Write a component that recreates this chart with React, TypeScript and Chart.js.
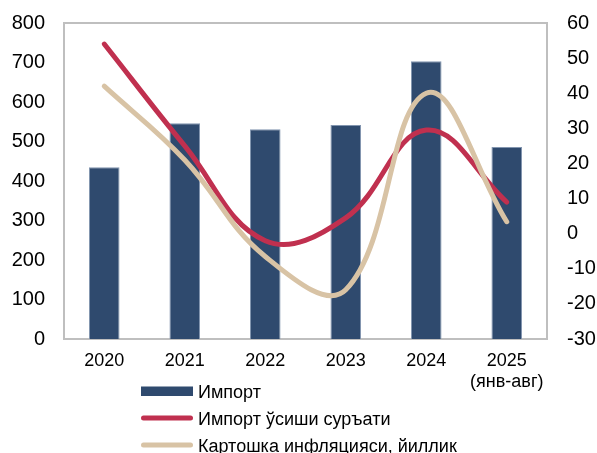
import { useEffect, useRef } from 'react';
import { Chart, registerables } from 'chart.js';
Chart.register(...registerables);

const categories: (string | string[])[] = ['2020', '2021', '2022', '2023', '2024', ['2025', '(янв-авг)']];
const importValues = [435, 546, 531, 542, 703, 486];
const importGrowth = [54, 25, -2, 4.5, 29.5, 9];
const potatoInflation = [42, 21, -6.5, -16, 40, 3.4];
const seriesNames = ['Импорт', 'Импорт ўсиши суръати', 'Картошка инфляцияси, йиллик'];
const leftRange = { min: 0, max: 800, step: 100 };
const rightRange = { min: -30, max: 60, step: 10 };

const FONT = "'Liberation Sans', Arial, sans-serif";
const NAVY = '#2F4A6E';
const RED = '#C0304F';
const BEIGE = '#D8C3A5';

const framePlugin = {
  id: 'frame',
  beforeDatasetsDraw(chart: any) {
    const { ctx, chartArea: a } = chart;
    ctx.save();
    ctx.strokeStyle = '#BFBFBF';
    ctx.lineWidth = 2;
    ctx.strokeRect(a.left, a.top, a.right - a.left, a.bottom - a.top);
    ctx.restore();
  },
};

const legendPlugin = {
  id: 'customLegend',
  afterDraw(chart: any) {
    const { ctx } = chart;
    const ds = chart.data.datasets;
    const x0 = 141;
    const x1 = 193;
    const baselines = [398, 425, 452];
    ctx.save();
    ctx.font = `18px ${FONT}`;
    ctx.fillStyle = '#000';
    ctx.textBaseline = 'alphabetic';
    ds.forEach((d: any, i: number) => {
      const base = baselines[i];
      const midY = base - 7;
      if (d.type === 'bar') {
        ctx.fillStyle = d.backgroundColor;
        ctx.fillRect(x0, midY - 4.5, x1 - x0, 9.5);
      } else {
        ctx.strokeStyle = d.borderColor;
        ctx.lineWidth = 5;
        ctx.lineCap = 'round';
        ctx.beginPath();
        ctx.moveTo(x0 + 2.5, midY);
        ctx.lineTo(x1 - 2.5, midY);
        ctx.stroke();
      }
      ctx.fillStyle = '#000';
      ctx.fillText(d.label, 198, base);
    });
    ctx.restore();
  },
};

export default function App() {
  const ref = useRef<HTMLCanvasElement>(null);
  useEffect(() => {
    if (!ref.current) return;
    const chart = new Chart(ref.current, {
      type: 'bar',
      data: {
        labels: categories as any,
        datasets: [
          {
            type: 'bar',
            label: seriesNames[0],
            data: importValues,
            backgroundColor: NAVY,
            borderColor: '#8295AF',
            borderWidth: 1,
            yAxisID: 'y',
            order: 2,
            barPercentage: 0.38,
            categoryPercentage: 1,
          } as any,
          {
            type: 'line',
            label: seriesNames[1],
            data: importGrowth,
            borderColor: RED,
            backgroundColor: RED,
            borderWidth: 5,
            borderCapStyle: 'round',
            pointRadius: 0,
            tension: 0.4,
            yAxisID: 'y1',
            order: 1,
          } as any,
          {
            type: 'line',
            label: seriesNames[2],
            data: potatoInflation,
            borderColor: BEIGE,
            backgroundColor: BEIGE,
            borderWidth: 5,
            borderCapStyle: 'round',
            pointRadius: 0,
            tension: 0.4,
            yAxisID: 'y1',
            order: 0,
          } as any,
        ],
      },
      options: {
        responsive: false,
        devicePixelRatio: 1,
        animation: false,
        layout: { padding: { top: 23, left: 0, right: 0, bottom: 0 } },
        plugins: { legend: { display: false }, tooltip: { enabled: false } },
        scales: {
          x: {
            offset: true,
            grid: { display: false, drawTicks: false },
            border: { display: false },
            ticks: { font: { family: FONT, size: 18 }, color: '#000', padding: 11, maxRotation: 0 },
            afterFit: (s: any) => { s.height = 114; },
          },
          y: {
            position: 'left',
            min: leftRange.min,
            max: leftRange.max,
            grid: { display: false, drawTicks: true, tickLength: 15, color: 'rgba(0,0,0,0)' },
            border: { display: false },
            ticks: { stepSize: leftRange.step, font: { family: FONT, size: 20 }, color: '#000', padding: 4 },
            afterFit: (s: any) => { s.width = 64; },
          },
          y1: {
            position: 'right',
            min: rightRange.min,
            max: rightRange.max,
            grid: { display: false, drawTicks: true, tickLength: 16, color: 'rgba(0,0,0,0)' },
            border: { display: false },
            ticks: { stepSize: rightRange.step, font: { family: FONT, size: 20 }, color: '#000', padding: 4 },
            afterFit: (s: any) => { s.width = 50; },
          },
        },
      } as any,
      plugins: [framePlugin, legendPlugin],
    });
    return () => chart.destroy();
  }, []);
  return (
    <div style={{ position: 'absolute', left: 0, top: 0, width: 597, height: 453, background: '#fff' }}>
      <canvas ref={ref} width={597} height={453} />
    </div>
  );
}
